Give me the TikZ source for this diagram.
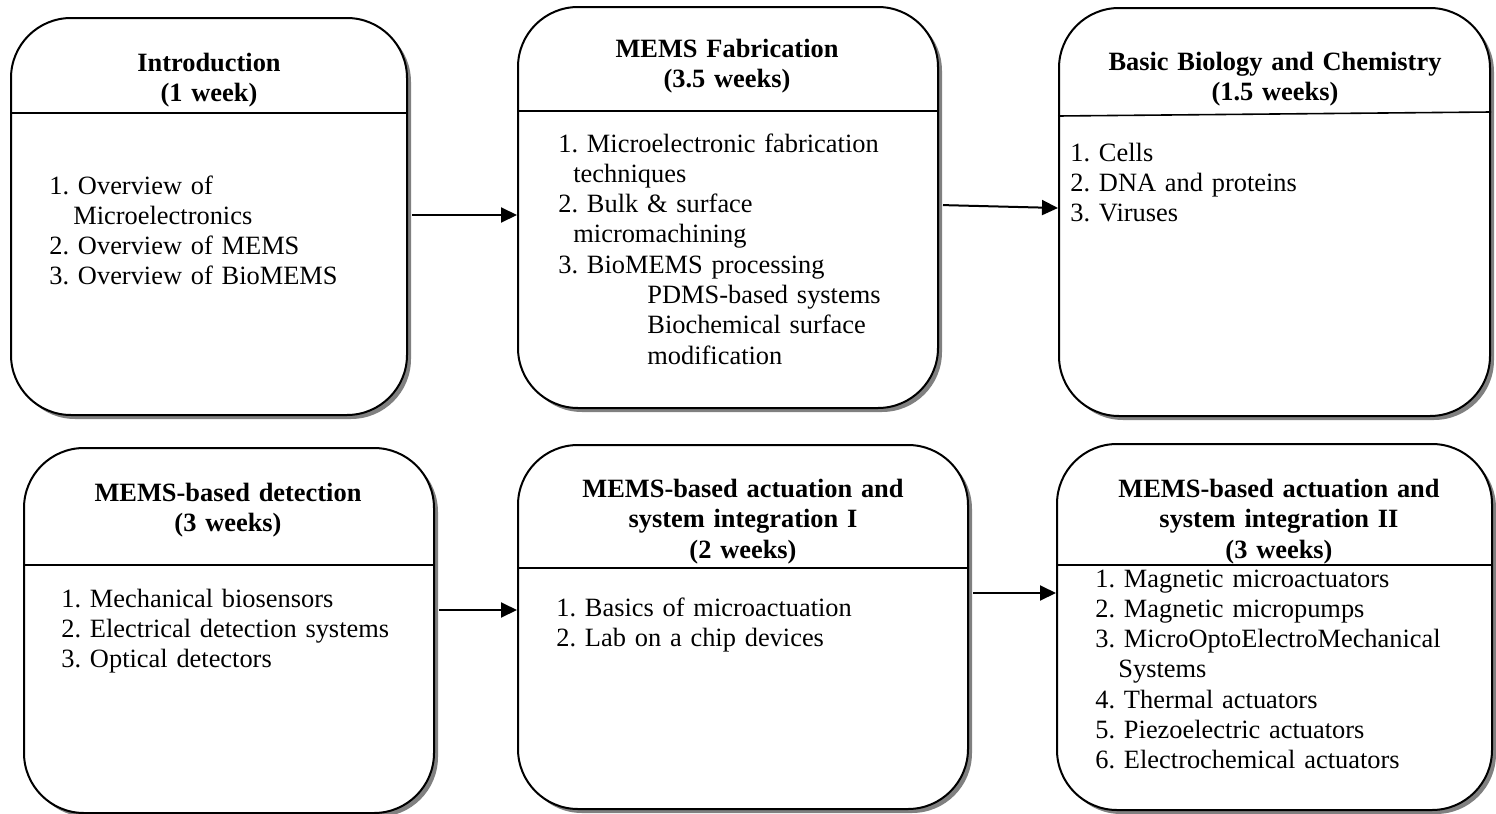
\documentclass[tikz,border=0pt]{standalone}
\usepackage{fontspec}
\setmainfont{Liberation Serif}
\usetikzlibrary{arrows.meta,shadows,fit}

\tikzset{
  topic/.style={draw, line width=1pt, rounded corners=30pt, fill=white, inner sep=0pt,
    drop shadow={shadow xshift=2pt, shadow yshift=-2pt, fill=gray, opacity=1}},
  head/.style={font=\fontsize{13.2}{15.25}\selectfont\bfseries\frenchspacing, text width=210pt, align=center, anchor=base, inner sep=0pt},
  items/.style={font=\fontsize{13.2}{15.15}\selectfont\frenchspacing, text width=210pt, align=left, anchor=base west, inner sep=0pt},
  rule/.style={line width=0.8pt},
  flow/.style={line width=1pt, shorten <=2pt, -{Triangle[length=8pt,width=7.5pt]}}
}

\begin{document}
\begin{tikzpicture}[x=0.5pt, y=-0.5pt]
  \useasboundingbox (0,0) rectangle (1496,814);
  % course parts
  \node[topic, fit={(11,18) (407,415)}] (intro) {};
  \node[topic, fit={(518,7) (938,408)}] (fab) {};
  \node[topic, fit={(1059,8) (1490,416)}] (bio) {};
  \node[topic, fit={(24,448) (434,813)}] (detect) {};
  \node[topic, fit={(518,445) (968,809)}] (actone) {};
  \node[topic, fit={(1057,444) (1492,810)}] (acttwo) {};
  % header rules
  \draw[rule] (intro.west |- 0,113) -- (intro.east |- 0,113);
  \draw[rule] (fab.west |- 0,111) -- (fab.east |- 0,111);
  \draw[rule] (bio.west |- 0,116) -- (bio.east |- 0,112);
  \draw[rule] (detect.west |- 0,565) -- (detect.east |- 0,565);
  \draw[rule] (actone.west |- 0,568) -- (actone.east |- 0,568);
  \draw[rule] (acttwo.west |- 0,565) -- (acttwo.east |- 0,565);
  % headers
  \node[head] (introhead) at (209,71) {Introduction\\(1 week)};
  \node[head] (fabhead) at (727,57) {MEMS Fabrication\\(3.5 weeks)};
  \node[head] (biohead) at (1275,70) {Basic Biology and Chemistry\\(1.5 weeks)};
  \node[head] (detecthead) at (228,501) {MEMS-based detection\\(3 weeks)};
  \node[head] (actonehead) at (743,497) {MEMS-based actuation and\\system integration I\\(2 weeks)};
  \node[head] (acttwohead) at (1279,497) {MEMS-based actuation and\\system integration II\\(3 weeks)};
  % topics
  \node[items] (introlist) at (49,194) {1. Overview of\\\hspace*{12pt}Microelectronics\\2. Overview of MEMS\\3. Overview of BioMEMS};
  \node[items] (fablist) at (558,152) {1. Microelectronic fabrication\\\hspace*{7.5pt}techniques\\2. Bulk \& surface\\\hspace*{7.5pt}micromachining\\3. BioMEMS processing\\\hspace*{44.5pt}PDMS-based systems\\\hspace*{44.5pt}Biochemical surface\\\hspace*{44.5pt}modification};
  \node[items] (biolist) at (1070,161) {1. Cells\\2. DNA and proteins\\3. Viruses};
  \node[items] (detectlist) at (61,607) {1. Mechanical biosensors\\2. Electrical detection systems\\3. Optical detectors};
  \node[items] (actonelist) at (556,616) {1. Basics of microactuation\\2. Lab on a chip devices};
  \node[items] (acttwolist) at (1095,587) {1. Magnetic microactuators\\2. Magnetic micropumps\\3. MicroOptoElectroMechanical\\\hspace*{11.5pt}Systems\\4. Thermal actuators\\5. Piezoelectric actuators\\6. Electrochemical actuators};
  % sequence
  \draw[flow] (intro.east |- 0,215) -- (fab.west |- 0,215);
  \draw[flow] (fab.east |- 0,205) -- (bio.west |- 0,208);
  \draw[flow] (detect.east |- 0,610) -- (actone.west |- 0,610);
  \draw[flow] (actone.east |- 0,593) -- (acttwo.west |- 0,593);
\end{tikzpicture}
\end{document}
